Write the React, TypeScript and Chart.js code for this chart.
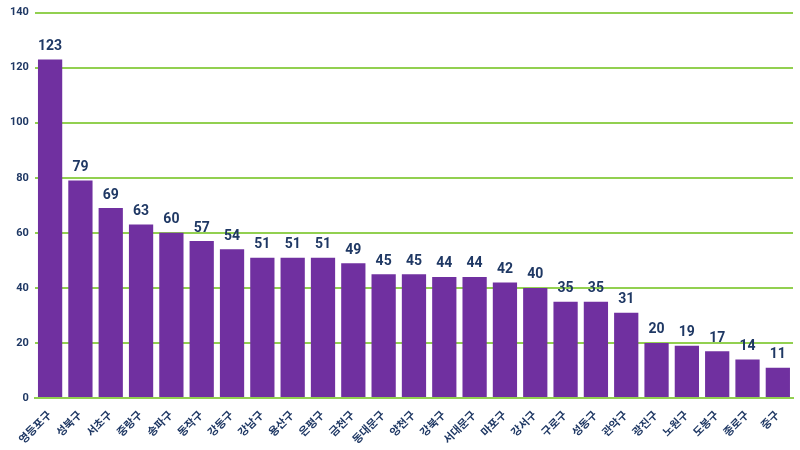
import React, { useEffect, useRef } from "react";
import { Chart, registerables } from "chart.js";

Chart.register(...registerables);

const categories = ["영등포구", "성북구", "서초구", "중랑구", "송파구", "동작구", "강동구", "강남구", "용산구", "은평구", "금천구", "동대문구", "양천구", "강북구", "서대문구", "마포구", "강서구", "구로구", "성동구", "관악구", "광진구", "노원구", "도봉구", "종로구", "중구"];
const values = [123, 79, 69, 63, 60, 57, 54, 51, 51, 51, 49, 45, 45, 44, 44, 42, 40, 35, 35, 31, 20, 19, 17, 14, 11];

const NAVY = "#1F3864";
const FONT = "Roboto, 'Noto Sans CJK KR', sans-serif";

const valueLabels = {
  id: "valueLabels",
  afterDatasetsDraw(chart: any) {
    const ctx = chart.ctx;
    const meta = chart.getDatasetMeta(0);
    ctx.save();
    ctx.fillStyle = NAVY;
    ctx.font = `bold 14px ${FONT}`;
    ctx.textAlign = "center";
    ctx.textBaseline = "bottom";
    meta.data.forEach((bar: any, i: number) => {
      ctx.fillText(String(values[i]), bar.x, bar.y - 6);
    });
    ctx.restore();
  },
};

export default function App() {
  const ref = useRef<HTMLCanvasElement>(null);
  useEffect(() => {
    document.body.style.margin = "0";
    const chart = new Chart(ref.current!, {
      type: "bar",
      data: {
        labels: categories,
        datasets: [
          {
            data: values,
            backgroundColor: "#7030A0",
            barPercentage: 0.8,
            categoryPercentage: 1,
          },
        ],
      },
      options: {
        animation: false,
        responsive: true,
        maintainAspectRatio: false,
        layout: { padding: { top: 4, right: 7, left: 4, bottom: 0 } },
        plugins: { legend: { display: false }, tooltip: { enabled: false } },
        scales: {
          x: {
            grid: { display: false },
            border: { color: "#92D050", width: 2 },
            ticks: {
              color: NAVY,
              font: { family: FONT, size: 11, weight: "bold" },
              maxRotation: 45,
              minRotation: 45,
              autoSkip: false,
            },
          },
          y: {
            min: 0,
            max: 140,
            ticks: {
              stepSize: 20,
              color: NAVY,
              font: { family: FONT, size: 11, weight: "bold" },
              padding: 6,
            },
            grid: { color: "#92D050", lineWidth: 2, drawTicks: false },
            border: { display: false },
          },
        },
      },
      plugins: [valueLabels],
    });
    return () => chart.destroy();
  }, []);
  return (
    <div style={{ width: 800, height: 450, position: "relative" }}>
      <canvas ref={ref} />
    </div>
  );
}
